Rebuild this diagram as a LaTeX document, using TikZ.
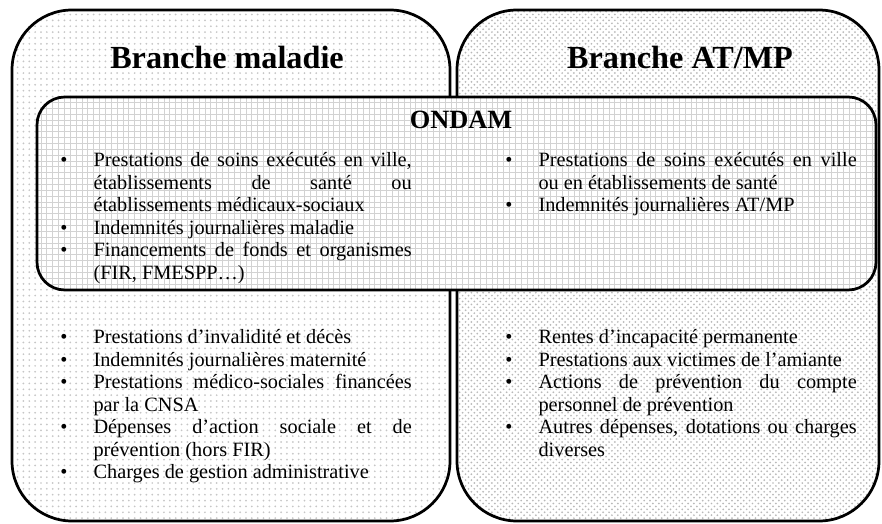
\documentclass[tikz,border=0pt]{standalone}
\usepackage{fontspec}
\setmainfont{Liberation Serif}
\usepackage{enumitem}
\usetikzlibrary{patterns}

\tikzset{
  branche/.style={line width=1.4pt, rounded corners=1.08cm, preaction={fill=white}},
  ondambox/.style={line width=1.4pt, rounded corners=0.5cm, preaction={fill=white}, pattern=grid, pattern color=gray!35},
  titre/.style={font=\fontsize{16.5}{20}\selectfont\bfseries},
  liste/.style={anchor=north west, inner sep=0pt, text width=180pt, align=justify, font=\fontsize{10.4}{11.5}\selectfont}
}
\newcommand{\puces}[1]{\hyphenpenalty=10000\exhyphenpenalty=10000\begin{itemize}[label=\textbullet, leftmargin=17pt, labelwidth=5pt, labelsep=12pt, align=left, topsep=0pt, itemsep=0pt, parsep=0pt, partopsep=0pt]#1\end{itemize}}

\begin{document}
\begin{tikzpicture}[x=0.018cm, y=-0.018cm]
\useasboundingbox[fill=white] (0,0) rectangle (882,524);
\draw[branche, pattern=dots, pattern color=gray!45] (12,10) rectangle (450,521);
\draw[branche, pattern=crosshatch dots, pattern color=gray!55] (457,10) rectangle (879,521);
\draw[ondambox] (37,97) rectangle (876,290);
\node[titre] (maladie) at (227,57) {Branche maladie};
\node[titre] (atmp) at (680,57) {Branche AT/MP};
\node[font=\fontsize{13.5}{15}\selectfont\bfseries] (ondam) at (461,120) {ONDAM};
\node[liste] (ondamgauche) at (60,144) {\puces{
  \item Prestations de soins exécutés en ville,\linebreak établissements de santé ou\linebreak établissements médicaux-sociaux
  \item Indemnités journalières maladie
  \item Financements de fonds et organismes\linebreak (FIR, FMESPP…)}};
\node[liste] (ondamdroite) at (505,144) {\puces{
  \item Prestations de soins exécutés en ville\linebreak ou en établissements de santé
  \item Indemnités journalières AT/MP}};
\node[liste] (maladiebas) at (60,321) {\puces{
  \item Prestations d’invalidité et décès
  \item Indemnités journalières maternité
  \item Prestations médico-sociales financées\linebreak par la CNSA
  \item Dépenses d’action sociale et de\linebreak prévention (hors FIR)
  \item Charges de gestion administrative}};
\node[liste] (atmpbas) at (505,321) {\puces{
  \item Rentes d’incapacité permanente
  \item Prestations aux victimes de l’amiante
  \item Actions de prévention du compte\linebreak personnel de prévention
  \item Autres dépenses, dotations ou charges\linebreak diverses}};
\end{tikzpicture}
\end{document}
